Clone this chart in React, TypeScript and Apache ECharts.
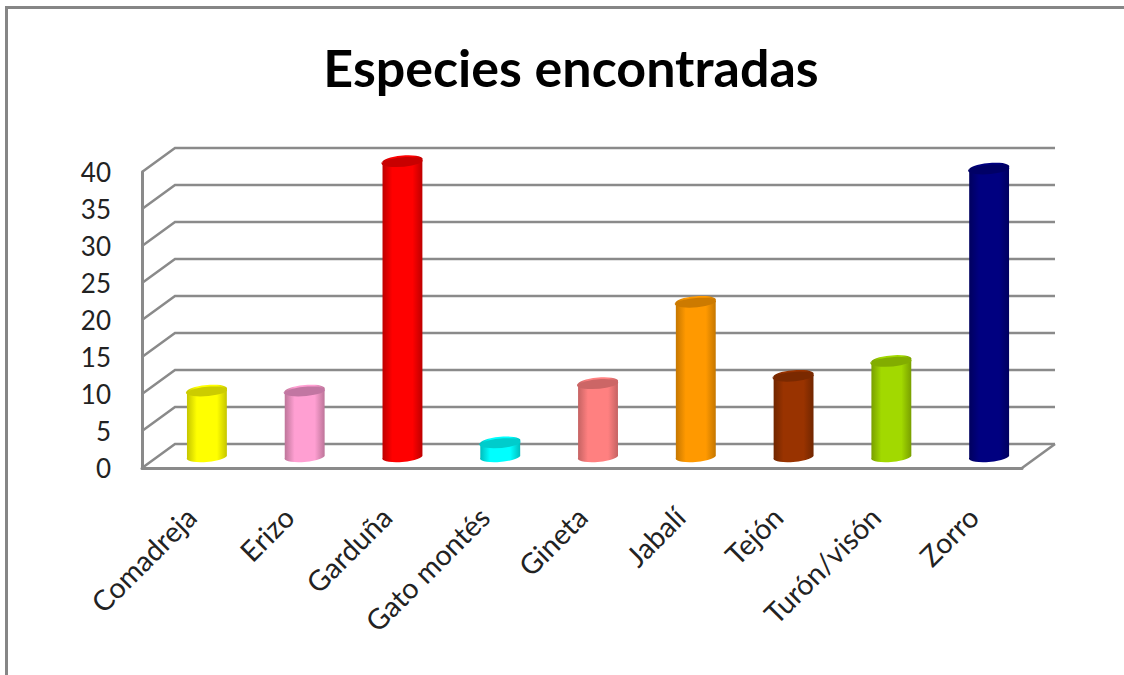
import React, { useEffect, useRef } from "react";
import * as echarts from "echarts";

const categories = ["Comadreja", "Erizo", "Garduña", "Gato montés", "Gineta", "Jabalí", "Tejón", "Turón/visón", "Zorro"];
const values = [9, 9, 40, 2, 10, 21, 11, 13, 39];
const bodyColors = ["#FFFF00", "#FF9FD2", "#FF0000", "#00FFFF", "#FF8080", "#FF9900", "#993300", "#A2D900", "#000080"];
const edgeColors = ["#C4C400", "#BC7498", "#BC0000", "#00BCBC", "#C46262", "#C47600", "#702600", "#789E00", "#00005E"];
const topColors = ["#CCCC00", "#C276A2", "#C80000", "#00CCCC", "#CC6666", "#CC7A00", "#7A2900", "#82AD00", "#000066"];
const gridValues = [0, 5, 10, 15, 20, 25, 30, 35, 40];

const DEPTH_X = 33;
const DEPTH_Y = -24;
const GRID_COLOR = "#8A8A8A";
const FONT = "Lato";

export default function App() {
  const ref = useRef<HTMLDivElement>(null);
  useEffect(() => {
    const chart = echarts.init(ref.current!, null, { renderer: "svg" });
    const rx = 20;
    const ry = 5;
    const rot = -5;
    const rad = (rot * Math.PI) / 180;
    chart.setOption({
      animation: false,
      backgroundColor: "#fff",
      title: {
        text: "Especies encontradas",
        left: 566,
        top: 36,
        textAlign: "center",
        textStyle: { fontFamily: FONT, fontSize: 52, fontWeight: "bold", color: "#000" },
      },
      graphic: [
        { type: "polyline", shape: { points: [[6.5, 675], [6.5, 7.5], [1124, 7.5]] }, style: { stroke: "#868686", lineWidth: 3, fill: "none" } },
      ],
      grid: { left: 142, top: 172, width: 880, height: 296 },
      xAxis: {
        type: "category",
        data: categories,
        axisTick: { show: false },
        axisLine: { lineStyle: { color: GRID_COLOR, width: 3 } },
        axisLabel: { rotate: 45, interval: 0, margin: 44, fontFamily: FONT, fontSize: 28.5, color: "#222" },
      },
      yAxis: {
        type: "value",
        min: 0,
        max: 40,
        interval: 5,
        splitLine: { show: false },
        axisTick: { show: false },
        axisLine: { show: true, lineStyle: { color: GRID_COLOR, width: 3 } },
        axisLabel: { margin: 31, padding: [4, 0, 0, 0], fontFamily: FONT, fontSize: 26, color: "#222" },
      },
      series: [
        {
          type: "custom",
          clip: false,
          silent: true,
          z: 1,
          encode: { x: 0, y: 1 },
          data: gridValues.map((v) => [0, v]),
          renderItem: (params: any, api: any) => {
            const v = api.value(1);
            const y = api.coord([0, v])[1];
            const cs = params.coordSys;
            const left = cs.x;
            const right = cs.x + cs.width;
            const style = { stroke: GRID_COLOR, lineWidth: 2.5, fill: "none" };
            const children: any[] = [
              {
                type: "polyline",
                shape: { points: [[left, y], [left + DEPTH_X, y + DEPTH_Y], [right + DEPTH_X, y + DEPTH_Y]] },
                style,
              },
            ];
            if (v === 0) {
              children.push({
                type: "line",
                shape: { x1: right, y1: y, x2: right + DEPTH_X, y2: y + DEPTH_Y },
                style,
              });
            }
            return { type: "group", children };
          },
        },
        {
          type: "custom",
          clip: false,
          silent: true,
          z: 2,
          encode: { x: 0, y: 1 },
          data: values.map((v, i) => [i, v]),
          renderItem: (params: any, api: any) => {
            const i = api.value(0);
            const top = api.coord([i, api.value(1)]);
            const base = api.coord([i, 0]);
            const cx = top[0] + DEPTH_X / 2 - 0.5;
            const yTop = top[1] + DEPTH_Y / 2 + 1.5;
            const yBase = base[1] + DEPTH_Y / 2;
            const ex = rx * Math.cos(rad);
            const ey = rx * Math.sin(rad);
            const tl = [cx - ex, yTop - ey];
            const tr = [cx + ex, yTop + ey];
            const bl = [cx - ex, yBase - ey];
            const br = [cx + ex, yBase + ey];
            const arc = (sweep: number, p: number[]) => `A ${rx} ${ry} ${rot} 0 ${sweep} ${p[0]} ${p[1]}`;
            const body = `M ${tl[0]} ${tl[1]} L ${bl[0]} ${bl[1]} ${arc(0, br)} L ${tr[0]} ${tr[1]} ${arc(0, tl)} Z`;
            const cap = `M ${tl[0]} ${tl[1]} ${arc(1, tr)} ${arc(1, tl)} Z`;
            const gradient = new echarts.graphic.LinearGradient(0, 0, 1, 0, [
              { offset: 0, color: edgeColors[i] },
              { offset: 0.25, color: bodyColors[i] },
              { offset: 0.75, color: bodyColors[i] },
              { offset: 1, color: edgeColors[i] },
            ]);
            return {
              type: "group",
              children: [
                { type: "path", shape: { pathData: body }, style: { fill: gradient } },
                { type: "path", shape: { pathData: cap }, style: { fill: topColors[i] } },
              ],
            };
          },
        },
      ],
    });
    return () => chart.dispose();
  }, []);
  return <div ref={ref} style={{ position: "fixed", left: 0, top: 0, width: 1124, height: 675 }} />;
}
